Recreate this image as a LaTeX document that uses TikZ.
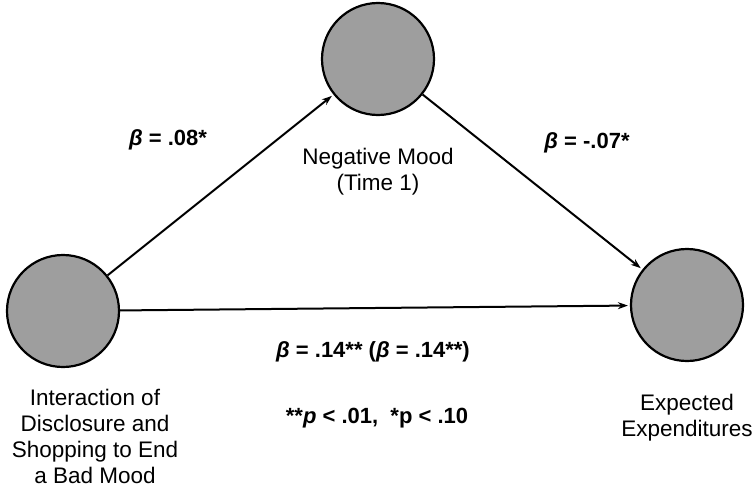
\documentclass[tikz,border=0pt]{standalone}
\usepackage{fontspec}
\setmainfont{Liberation Sans}
\usetikzlibrary{arrows.meta, positioning}

\begin{document}
\begin{tikzpicture}[
    x=1pt, y=-1pt,
    every node/.style={font=\fontsize{22.5}{26}\selectfont, align=center},
    construct/.style={circle, draw, line width=2.2pt, fill=black!38,
                      minimum size=112pt, inner sep=0pt},
    caption/.style={inner sep=0pt},
    coef/.style={font=\fontsize{22}{26}\selectfont\bfseries, inner sep=0pt},
    arrow/.style={-{Stealth[length=10pt, width=7pt]}, line width=2pt, shorten >=2pt}
]
\useasboundingbox (0,0) rectangle (754,487);

\node (disclosure) [construct] at (63,311)  {};
\node (mood)       [construct] at (378,59)  {};
\node (spend)      [construct] at (687,305) {};

\node (disclosure-label) [caption, below=21pt of disclosure, xshift=32pt]
    {Interaction of\\Disclosure and\\Shopping to End\\a Bad Mood};
\node (mood-label)  [caption, below=32pt of mood]  {Negative Mood\\(Time 1)};
\node (spend-label) [caption, below=32pt of spend] {Expected\\Expenditures};

\draw [arrow] (disclosure) -- (mood);
\draw [arrow] (mood) -- (spend);
\draw [arrow] (disclosure) -- (spend);

\node (beta-a) [coef] at (168,140) {\textit{β} = .08*};
\node (beta-b) [coef] at (587,143) {\textit{β} = -.07*};
\node (beta-c) [coef] at (373,352) {\textit{β} = .14** (\textit{β} = .14**)};
\node (note)   [coef] at (377,418) {**\textit{p} < .01,\ \ *p < .10};
\end{tikzpicture}
\end{document}
